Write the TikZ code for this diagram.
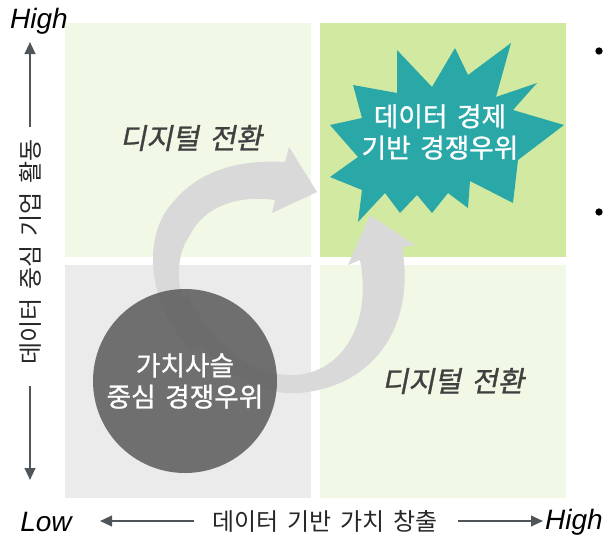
\documentclass[tikz,border=0pt]{standalone}
\usepackage{fontspec}
\newfontfamily\kr[WordSpace=1.6]{Noto Sans CJK KR}
\newfontfamily\krbold[WordSpace=1.6, FakeBold=1]{Noto Sans CJK KR}
\newfontfamily\krslant[WordSpace=1.6, FakeSlant=0.2, FakeBold=1]{Noto Sans CJK KR}
\newfontfamily\arial{Liberation Sans}
\usetikzlibrary{arrows.meta}
\definecolor{palegreen}{HTML}{F2F8E6}
\definecolor{leafgreen}{HTML}{D2E9A1}
\definecolor{palegray}{HTML}{EBEBEB}
\definecolor{circlegray}{HTML}{5A5A5A}
\definecolor{burstteal}{HTML}{2AA8A8}
\definecolor{arrowgray}{HTML}{D9D9D9}
\definecolor{axisgray}{HTML}{50555A}
\definecolor{labelgray}{HTML}{404040}
\tikzset{axis/.style={draw=axisgray, line width=1.5pt, -{Triangle[length=9pt,width=8pt]}}}

\begin{document}
\begin{tikzpicture}[x=0.75pt, y=-0.75pt]
\tikzstyle{quad} = [rectangle, minimum width=184.5pt, minimum height=175pt, inner sep=0pt]
\tikzstyle{tag} = [text=labelgray, font=\krslant\fontsize{21.5}{24}\selectfont]
\tikzstyle{bubble} = [text=white, align=center, font=\krbold\fontsize{20}{23.5}\selectfont]
\tikzstyle{axistext} = [inner sep=0pt, text=black!85, font=\kr\fontsize{18}{20}\selectfont]
\tikzstyle{end} = [inner sep=0pt, font=\arial\itshape\fontsize{21}{23}\selectfont]
\tikzstyle{dot} = [circle, fill=black, inner sep=0pt, minimum size=5.5pt]

\useasboundingbox (0,0) rectangle (603,540);

% quadrants
\node [quad, fill=palegreen] (quadtl) at (188,140) {};
\node [quad, fill=leafgreen] (quadtr) at (443,140) {};
\node [quad, fill=palegray] (quadbl) at (188,381.5) {};
\node [quad, fill=palegreen] (quadbr) at (443,381.5) {};
\node [tag] (digitaltop) at (191,138) {디지털 전환};
\node [tag] (digitalright) at (453,381) {디지털 전환};

% data economy burst
\fill [burstteal] (330,125) -- (362,118) -- (353,85) -- (397,93) -- (397,50) -- (432,87) -- (455,48)
  -- (468,75) -- (511,43) -- (496,97) -- (537,83) -- (513,110) -- (564,125) -- (518,160)
  -- (513,203) -- (470,181) -- (468,208) -- (448,193) -- (432,213) -- (417,195) -- (400,213)
  -- (385,193) -- (358,222) -- (362,190) -- (330,177) -- (358,157) -- cycle;
\node [bubble] (dataeco) at (440,132) {데이터 경제\\기반 경쟁우위};

% curved arrows
\fill [arrowgray] (190,350) .. controls (148,305) and (140,235) .. (175,200)
  .. controls (205,165) and (250,160) .. (285,162) -- (289,147) -- (317,192) -- (272,213)
  -- (275,200) .. controls (240,195) and (205,205) .. (190,235)
  .. controls (172,260) and (175,305) .. (205,345) -- cycle;
\fill [arrowgray] (402,247) .. controls (415,320) and (380,385) .. (300,393)
  .. controls (240,397) and (195,350) .. (175,300) -- (188,295)
  .. controls (207,335) and (245,377) .. (295,375)
  .. controls (345,372) and (372,320) .. (360,260) -- (348,265) -- (370,215) -- (415,245) -- cycle;

% value chain
\node [circle, fill=circlegray, fill opacity=0.85, text opacity=1, minimum size=138pt, bubble] (chain) at (185,381) {가치사슬\\중심 경쟁우위};

% axes
\node [axistext, rotate=90] (yaxis) at (30,252) {데이터 중심 기업 활동};
\node [axistext] (xaxis) at (325,521) {데이터 기반 가치 창출};
\node [end] (hightop) at (39,21) {High};
\node [end] (lowleft) at (46,522) {Low};
\node [end] (highright) at (574,522) {High};
\coordinate (ytop) at (30,42);
\coordinate (ybot) at (30,480);
\coordinate (xleft) at (100,521);
\coordinate (xright) at (543,521);

\path [axis, shorten <=9pt] (yaxis.east) -- (ytop);
\path [axis, shorten <=16pt] (yaxis.west) -- (ybot);
\path [axis, shorten <=14pt] (xaxis.west) -- (xleft);
\path [axis, shorten <=15pt] (xaxis.east) -- (xright);

\node [dot] (bullet1) at (599,51) {};
\node [dot] (bullet2) at (599,212) {};

\end{tikzpicture}
\end{document}
